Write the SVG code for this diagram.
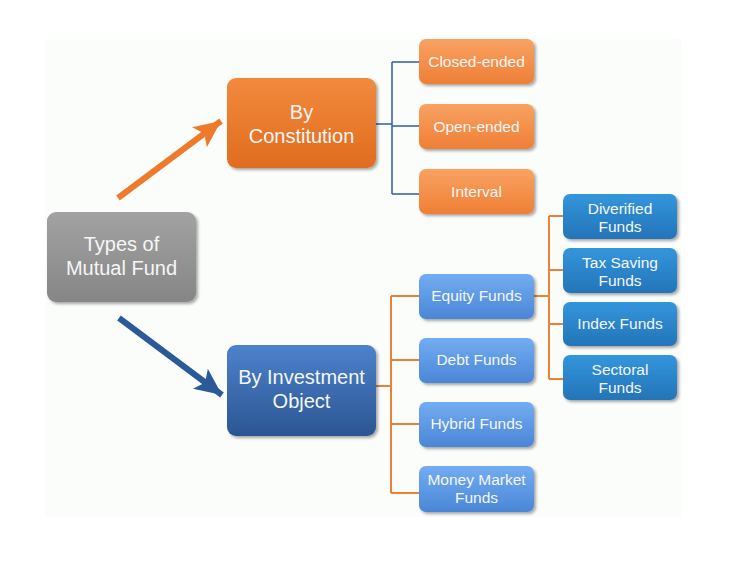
<svg xmlns="http://www.w3.org/2000/svg" width="751" height="585" viewBox="0 0 751 585">
<defs>
<linearGradient id="gGray" x1="0" y1="0" x2="0" y2="1"><stop offset="0" stop-color="#a2a2a2"/><stop offset="1" stop-color="#868686"/></linearGradient>
<linearGradient id="gOrange" x1="0" y1="0" x2="0" y2="1"><stop offset="0" stop-color="#f28a3d"/><stop offset="1" stop-color="#e06c1f"/></linearGradient>
<linearGradient id="gOrangeL" x1="0" y1="0" x2="0" y2="1"><stop offset="0" stop-color="#f9a263"/><stop offset="1" stop-color="#ef7f35"/></linearGradient>
<linearGradient id="gBlue" x1="0" y1="0" x2="0" y2="1"><stop offset="0" stop-color="#4c82cc"/><stop offset="1" stop-color="#2b5592"/></linearGradient>
<linearGradient id="gBlueL" x1="0" y1="0" x2="0" y2="1"><stop offset="0" stop-color="#72adf3"/><stop offset="1" stop-color="#4a86d6"/></linearGradient>
<linearGradient id="gCyan" x1="0" y1="0" x2="0" y2="1"><stop offset="0" stop-color="#3396dc"/><stop offset="1" stop-color="#2474b8"/></linearGradient>
<filter id="sh" x="-10%" y="-10%" width="125%" height="130%">
<feGaussianBlur in="SourceAlpha" stdDeviation="1.5"/>
<feOffset dx="1.5" dy="2" result="b"/>
<feComponentTransfer><feFuncA type="linear" slope="0.35"/></feComponentTransfer>
<feMerge><feMergeNode/><feMergeNode in="SourceGraphic"/></feMerge>
</filter>
<marker id="headO" markerUnits="userSpaceOnUse" markerWidth="28" markerHeight="26" refX="27" refY="12.5" orient="auto" viewBox="0 0 28 25">
<path d="M0,0 L27,12.5 L0,25 L6,12.5 Z" fill="#ee7a2c"/>
</marker>
<marker id="headB" markerUnits="userSpaceOnUse" markerWidth="28" markerHeight="26" refX="27" refY="12.5" orient="auto" viewBox="0 0 28 25">
<path d="M0,0 L27,12.5 L0,25 L6,12.5 Z" fill="#2c5a98"/>
</marker>
</defs>
<style>
.box text{font-family:"Liberation Sans",Arial,sans-serif;fill:#f6f6f6;text-anchor:middle}
.big{font-size:20px}
.sm{font-size:15.5px}
.cB{fill:none;stroke:#2f5ea6;stroke-width:1.5}
.cO{fill:none;stroke:#ec8036;stroke-width:2}
</style>
<rect x="45" y="39" width="636" height="478" fill="#fbfdfb"/>
<g id="connectors">
<line x1="118" y1="198" x2="221" y2="121" stroke="#ee7a2c" stroke-width="6" marker-end="url(#headO)"/>
<line x1="119" y1="318" x2="222" y2="395" stroke="#2c5a98" stroke-width="6" marker-end="url(#headB)"/>
<path class="cB" d="M376,124 H392 M392,62 V194 M392,62 H419 M392,126 H419 M392,194 H419"/>
<path class="cO" d="M376,386 H391 M391,296 V493 M391,296 H419 M391,360 H419 M391,424 H419 M391,493 H419"/>
<path class="cO" d="M534,296 H549 M549,216 V379 M549,216 H563 M549,270 H563 M549,324 H563 M549,379 H563"/>
</g>
<g id="types" class="box"><rect x="47" y="212" width="149" height="90" rx="9" fill="url(#gGray)" filter="url(#sh)"/><text class="big" x="121.5" y="251">Types of</text><text class="big" x="121.5" y="275">Mutual Fund</text></g>
<g id="constitution" class="box"><rect x="227" y="78" width="149" height="90" rx="9" fill="url(#gOrange)" filter="url(#sh)"/><text class="big" x="301.5" y="119">By</text><text class="big" x="301.5" y="143">Constitution</text></g>
<g id="investment" class="box"><rect x="227" y="345" width="149" height="91" rx="9" fill="url(#gBlue)" filter="url(#sh)"/><text class="big" x="301.5" y="384">By Investment</text><text class="big" x="301.5" y="408">Object</text></g>
<g id="closed" class="box"><rect x="419" y="39" width="115" height="45" rx="7" fill="url(#gOrangeL)" filter="url(#sh)"/><text class="sm" x="476.5" y="67">Closed-ended</text></g>
<g id="open" class="box"><rect x="419" y="104" width="115" height="45" rx="7" fill="url(#gOrangeL)" filter="url(#sh)"/><text class="sm" x="476.5" y="132">Open-ended</text></g>
<g id="interval" class="box"><rect x="419" y="169" width="115" height="45" rx="7" fill="url(#gOrangeL)" filter="url(#sh)"/><text class="sm" x="476.5" y="197">Interval</text></g>
<g id="equity" class="box"><rect x="419" y="274" width="115" height="45" rx="7" fill="url(#gBlueL)" filter="url(#sh)"/><text class="sm" x="476.5" y="301">Equity Funds</text></g>
<g id="debt" class="box"><rect x="419" y="338" width="115" height="45" rx="7" fill="url(#gBlueL)" filter="url(#sh)"/><text class="sm" x="476.5" y="365">Debt Funds</text></g>
<g id="hybrid" class="box"><rect x="419" y="402" width="115" height="45" rx="7" fill="url(#gBlueL)" filter="url(#sh)"/><text class="sm" x="476.5" y="429">Hybrid Funds</text></g>
<g id="money" class="box"><rect x="419" y="466" width="115" height="46" rx="7" fill="url(#gBlueL)" filter="url(#sh)"/><text class="sm" x="476.5" y="485">Money Market</text><text class="sm" x="476.5" y="503">Funds</text></g>
<g id="diverified" class="box"><rect x="563" y="194" width="114" height="45" rx="7" fill="url(#gCyan)" filter="url(#sh)"/><text class="sm" x="620" y="214">Diverified</text><text class="sm" x="620" y="232">Funds</text></g>
<g id="taxsaving" class="box"><rect x="563" y="248" width="114" height="45" rx="7" fill="url(#gCyan)" filter="url(#sh)"/><text class="sm" x="620" y="268">Tax Saving</text><text class="sm" x="620" y="286">Funds</text></g>
<g id="index" class="box"><rect x="563" y="302" width="114" height="44" rx="7" fill="url(#gCyan)" filter="url(#sh)"/><text class="sm" x="620" y="329">Index Funds</text></g>
<g id="sectoral" class="box"><rect x="563" y="355" width="114" height="45" rx="7" fill="url(#gCyan)" filter="url(#sh)"/><text class="sm" x="620" y="375">Sectoral</text><text class="sm" x="620" y="393">Funds</text></g>
</svg>
